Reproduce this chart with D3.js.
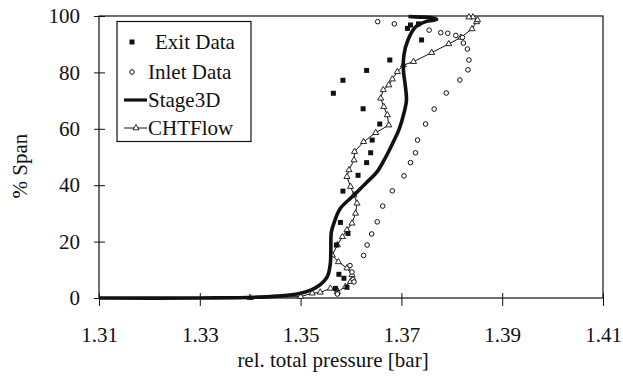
<!DOCTYPE html>
<html>
<head>
<meta charset="utf-8">
<script src="https://cdn.jsdelivr.net/npm/d3@7"></script>
<style>
  body { margin: 0; background: #fff; }
  svg { display: block; }
  svg text { font-family: 'Liberation Serif', 'DejaVu Serif', serif; }
</style>
</head>
<body>
<div id="chart"></div>
<script>
  'use strict';

  const FONT_FAMILY = "'Liberation Serif', 'DejaVu Serif', serif";
  const INK = '#111';

  // Axis ticks.
  const X_TICKS = [1.31, 1.33, 1.35, 1.37, 1.39, 1.41];
  const Y_TICKS = [0, 20, 40, 60, 80, 100];

  // Exit data (filled squares): [pressure, span].
  const exitData = [
    [1.3712, 95.6], [1.3718, 96.8], [1.3734, 97.2], [1.3740, 91.5],
    [1.3677, 84.4], [1.3631, 80.7], [1.3584, 77.2], [1.3565, 72.6],
    [1.3624, 67.1], [1.3657, 61.7], [1.3642, 56.0], [1.3639, 51.5],
    [1.3631, 48.0], [1.3614, 43.5], [1.3584, 37.9], [1.3579, 26.8],
    [1.3594, 22.9], [1.3571, 18.8], [1.3576, 8.4], [1.3586, 7.0],
    [1.3592, 3.8], [1.3569, 3.4]
  ];

  // Inlet data (open circles).
  const inletData = [
    [1.3653, 98.0], [1.3686, 97.2], [1.3755, 95.0], [1.3778, 94.1],
    [1.3792, 93.9], [1.3808, 93.1], [1.3821, 92.4], [1.3823, 90.4],
    [1.3831, 88.3], [1.3834, 84.4], [1.3832, 80.9], [1.3816, 77.3],
    [1.3789, 72.7], [1.3765, 67.0], [1.3748, 61.7], [1.3732, 56.0],
    [1.3728, 51.5], [1.3718, 48.0], [1.3705, 43.3], [1.3682, 38.0],
    [1.3663, 32.6], [1.3652, 27.0], [1.3641, 22.7], [1.3632, 18.8],
    [1.3625, 15.1], [1.3598, 11.5], [1.3602, 9.2], [1.3604, 6.6],
    [1.3606, 5.7], [1.3571, 3.0], [1.3573, 1.4]
  ];

  // Stage3D (thick line).
  const stage3d = [
    [1.3100, 0.0], [1.3300, 0.0], [1.3440, 0.5], [1.3500, 1.7],
    [1.3533, 4.0], [1.3553, 7.6], [1.3559, 12.3], [1.3560, 17.0],
    [1.3561, 23.4], [1.3567, 27.0], [1.3579, 31.8], [1.3606, 36.5],
    [1.3632, 41.1], [1.3652, 44.8], [1.3669, 50.0], [1.3683, 55.0],
    [1.3695, 59.6], [1.3705, 65.5], [1.3710, 70.2], [1.3708, 74.9],
    [1.3704, 80.9], [1.3705, 86.2], [1.3713, 91.5], [1.3728, 96.1],
    [1.3748, 98.0], [1.3770, 98.8], [1.3758, 99.5], [1.3738, 99.6],
    [1.3714, 99.8]
  ];

  // CHTFlow (thin line with triangles).
  const chtflow = [
    [1.3100, 0.0], [1.3300, 0.0], [1.3400, 0.1], [1.3500, 0.5],
    [1.3523, 1.7], [1.3539, 2.0], [1.3559, 3.4], [1.3573, 2.2],
    [1.3589, 4.0], [1.3599, 5.8], [1.3602, 8.2], [1.3592, 10.6],
    [1.3575, 12.8], [1.3563, 15.2], [1.3573, 18.8], [1.3583, 21.7],
    [1.3592, 24.1], [1.3602, 26.5], [1.3609, 30.0], [1.3612, 33.6],
    [1.3606, 36.5], [1.3599, 39.5], [1.3592, 43.0], [1.3596, 45.4],
    [1.3606, 48.9], [1.3607, 51.9], [1.3625, 55.4], [1.3649, 58.6],
    [1.3675, 61.3], [1.3672, 64.9], [1.3665, 67.8], [1.3659, 70.8],
    [1.3664, 73.8], [1.3675, 75.5], [1.3682, 77.6], [1.3692, 80.2],
    [1.3704, 82.6], [1.3724, 83.8], [1.3760, 87.0], [1.3794, 90.1],
    [1.3818, 92.4], [1.3840, 95.4], [1.3849, 97.9], [1.3851, 98.6],
    [1.3842, 99.6], [1.3834, 99.6]
  ];

  const LEGEND = ['Exit Data', 'Inlet Data', 'Stage3D', 'CHTFlow'];

  const W = 623, H = 376;
  const margin = {top: 16, right: 20, bottom: 78, left: 99};

  const svg = d3.select('#chart')
    .append('svg')
    .attr('width', W)
    .attr('height', H);

  svg.append('rect').attr('width', W).attr('height', H).attr('fill', '#fff');

  let x = d3.scaleLinear().domain([1.31, 1.41]).range([margin.left, W - margin.right]);
  let y = d3.scaleLinear().domain([0, 100]).range([H - margin.bottom, margin.top]);

  // Frame.
  svg.append('rect')
    .attr('x', x(1.31))
    .attr('y', y(100))
    .attr('width', x(1.41) - x(1.31))
    .attr('height', y(0) - y(100))
    .attr('fill', 'none')
    .attr('stroke', INK)
    .attr('stroke-width', 1.2);

  // X axis: ticks cross the bottom line.
  let xAxis = svg.append('g')
    .attr('transform', 'translate(0,' + y(0) + ')')
    .call(d3.axisBottom(x).tickValues(X_TICKS).tickFormat(d3.format('.2f')).tickSizeInner(8).tickSizeOuter(0));
  xAxis.attr('font-family', FONT_FAMILY).attr('font-size', 21);
  xAxis.select('.domain').remove();
  xAxis.selectAll('.tick line').attr('y1', -5).attr('stroke', INK);
  xAxis.selectAll('.tick text')
    .attr('y', 44)
    .attr('dy', 0)
    .attr('fill', INK);

  // Y axis.
  let yAxis = svg.append('g')
    .attr('transform', 'translate(' + x(1.31) + ',0)')
    .call(d3.axisLeft(y).tickValues(Y_TICKS).tickSizeInner(5).tickSizeOuter(0).tickPadding(14));
  yAxis.attr('font-family', FONT_FAMILY).attr('font-size', 21);
  yAxis.select('.domain').remove();
  yAxis.selectAll('.tick line').attr('x1', -5).attr('x2', 6).attr('stroke', INK);
  yAxis.selectAll('.tick text').attr('fill', INK);

  // Axis titles.
  svg.append('text')
    .attr('x', (x(1.31) + x(1.41)) / 2 - 18)
    .attr('y', 367)
    .attr('text-anchor', 'middle')
    .attr('font-family', FONT_FAMILY)
    .attr('font-size', 21)
    .attr('fill', INK)
    .text('rel. total pressure [bar]');

  svg.append('text')
    .attr('transform', 'translate(27,' + 166 + ') rotate(-90)')
    .attr('text-anchor', 'middle')
    .attr('font-family', FONT_FAMILY)
    .attr('font-size', 21)
    .attr('fill', INK)
    .text('% Span');

  let line = d3.line()
    .x(d => x(d[0]))
    .y(d => y(d[1]))
    .curve(d3.curveCatmullRom.alpha(0.5));

  // CHTFlow.
  svg.append('path')
    .datum(chtflow)
    .attr('d', d3.line().x(d => x(d[0])).y(d => y(d[1])))
    .attr('fill', 'none')
    .attr('stroke', INK)
    .attr('stroke-width', 1);

  let tri = d3.symbol().type(d3.symbolTriangle).size(16);
  svg.append('g')
    .selectAll('path')
    .data(chtflow.slice(2))
    .enter()
    .append('path')
    .attr('transform', d => 'translate(' + x(d[0]) + ',' + y(d[1]) + ')')
    .attr('d', tri)
    .attr('fill', '#fff')
    .attr('stroke', INK)
    .attr('stroke-width', 0.9);

  // Stage3D.
  svg.append('path')
    .datum(stage3d)
    .attr('d', line)
    .attr('fill', 'none')
    .attr('stroke', INK)
    .attr('stroke-width', 3.6)
    .attr('stroke-linejoin', 'round');

  // Inlet data.
  svg.append('g')
    .selectAll('circle')
    .data(inletData)
    .enter()
    .append('circle')
    .attr('cx', d => x(d[0]))
    .attr('cy', d => y(d[1]))
    .attr('r', 2.3)
    .attr('fill', '#fff')
    .attr('stroke', INK)
    .attr('stroke-width', 1);

  // Exit data.
  svg.append('g')
    .selectAll('rect')
    .data(exitData)
    .enter()
    .append('rect')
    .attr('x', d => x(d[0]) - 2.5)
    .attr('y', d => y(d[1]) - 2.5)
    .attr('width', 5)
    .attr('height', 5)
    .attr('fill', INK);

  // Legend.
  let legend = svg.append('g')
    .attr('font-family', FONT_FAMILY)
    .attr('font-size', 21);
  legend.append('rect')
    .attr('x', 117)
    .attr('y', 21.5)
    .attr('width', 134)
    .attr('height', 120)
    .attr('fill', '#fff')
    .attr('stroke', INK)
    .attr('stroke-width', 1.2);

  let rowY = [42, 72, 100, 128];
  let textX = [155, 148, 148, 148];
  LEGEND.forEach(function (name, i) {
    legend.append('text')
      .attr('x', textX[i])
      .attr('y', rowY[i])
      .attr('dy', '0.35em')
      .attr('fill', INK)
      .text(name);
  });
  legend.append('rect')
    .attr('x', 129.5).attr('y', rowY[0] - 2.5)
    .attr('width', 5).attr('height', 5)
    .attr('fill', INK);
  legend.append('circle')
    .attr('cx', 132).attr('cy', rowY[1])
    .attr('r', 2.3)
    .attr('fill', '#fff').attr('stroke', INK);
  legend.append('line')
    .attr('x1', 124).attr('x2', 147)
    .attr('y1', rowY[2]).attr('y2', rowY[2])
    .attr('stroke', INK).attr('stroke-width', 3.2);
  legend.append('line')
    .attr('x1', 124).attr('x2', 147)
    .attr('y1', rowY[3]).attr('y2', rowY[3])
    .attr('stroke', INK).attr('stroke-width', 1);
  legend.append('path')
    .attr('transform', 'translate(136,' + rowY[3] + ')')
    .attr('d', tri)
    .attr('fill', '#fff').attr('stroke', INK).attr('stroke-width', 0.9);
</script>
</body>
</html>
